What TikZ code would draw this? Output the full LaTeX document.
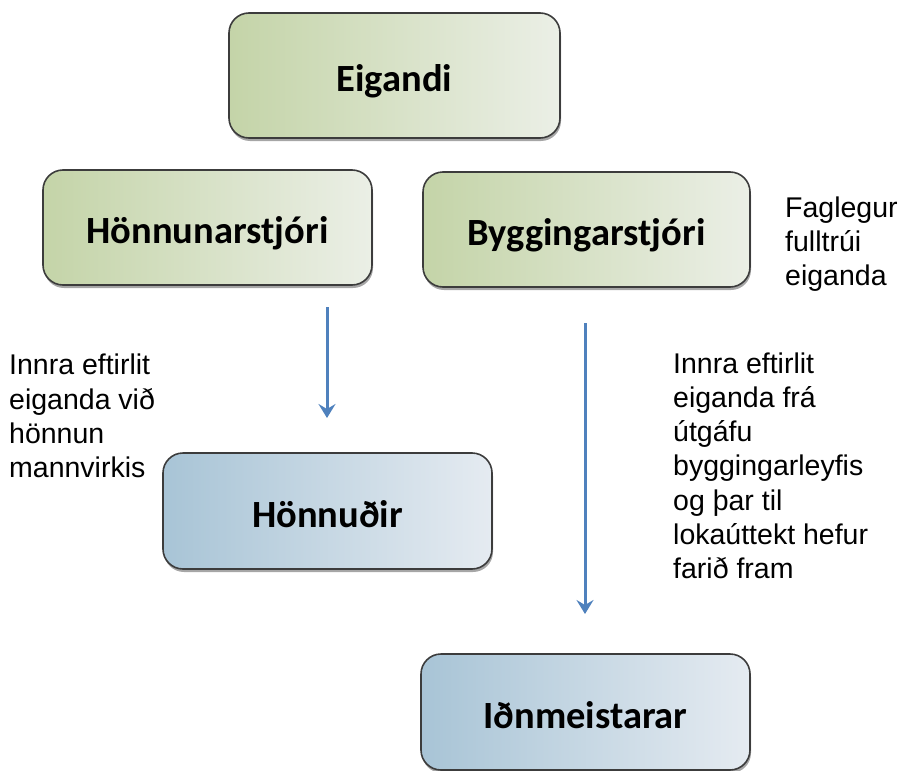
\documentclass[tikz,border=0pt]{standalone}
\usepackage{fontspec}
\setmainfont{Liberation Sans}
\newfontfamily\boxfont{Carlito}
\usetikzlibrary{arrows.meta,shadows}

\definecolor{greenL}{RGB}{196,212,168}
\definecolor{greenR}{RGB}{235,239,230}
\definecolor{blueL}{RGB}{168,196,214}
\definecolor{blueR}{RGB}{229,235,241}
\definecolor{arrowblue}{RGB}{79,129,189}
\definecolor{edgegray}{RGB}{60,60,60}

\tikzset{
  orgbox/.style={rectangle, rounded corners=20pt, draw=edgegray, line width=1.6pt,
    minimum width=329pt, minimum height=116pt, inner sep=0pt,
    text height=32pt, text depth=0pt,
    font=\boxfont\bfseries\fontsize{38.5}{41}\selectfont,
    drop shadow={shadow xshift=1pt, shadow yshift=-3pt, opacity=0.35, fill=black}},
  greenbox/.style={orgbox, left color=greenL, right color=greenR},
  bluebox/.style={orgbox, left color=blueL, right color=blueR},
  note/.style={anchor=north west, inner sep=0pt, align=left,
    font=\fontsize{28.5}{34.2}\selectfont},
  flow/.style={draw=arrowblue, line width=3pt,
    -{Stealth[length=14pt, width=17pt, inset=5pt]}}
}

\begin{document}
\begin{tikzpicture}[x=1pt, y=-1pt]
  \useasboundingbox (0,0) rectangle (903,771);

  % hierarchy boxes
  \node[greenbox, minimum width=331pt, minimum height=125pt] (owner) at (394.5,75.5) {Eigandi};
  \node[greenbox, minimum height=115pt] (design) at (207.5,227.5) {Hönnunarstjóri};
  \node[greenbox, minimum width=327pt, minimum height=115pt] (build) at (586.5,229.5) {Byggingarstjóri};
  \node[bluebox] (designers) at (327.5,511) {Hönnuðir};
  \node[bluebox] (masters) at (585.5,712) {Iðnmeistarar};

  % supervision arrows
  \coordinate (dtop) at (327,307);
  \coordinate (dbot) at (327,418);
  \coordinate (btop) at (585,323);
  \coordinate (bbot) at (585,614);
  \draw[flow] (dtop) -- (dbot);
  \draw[flow] (btop) -- (bbot);

  % side notes
  \node[note] (n1) at (9,354) {Innra eftirlit\\eiganda við\\hönnun\\mannvirkis};
  \node[note] (n2) at (673,352.5) {Innra eftirlit\\eiganda frá\\útgáfu\\byggingarleyfis\\og þar til\\lokaúttekt hefur\\farið fram};
  \node[note] (n3) at (785,196.5) {Faglegur\\fulltrúi\\eiganda};
\end{tikzpicture}
\end{document}
